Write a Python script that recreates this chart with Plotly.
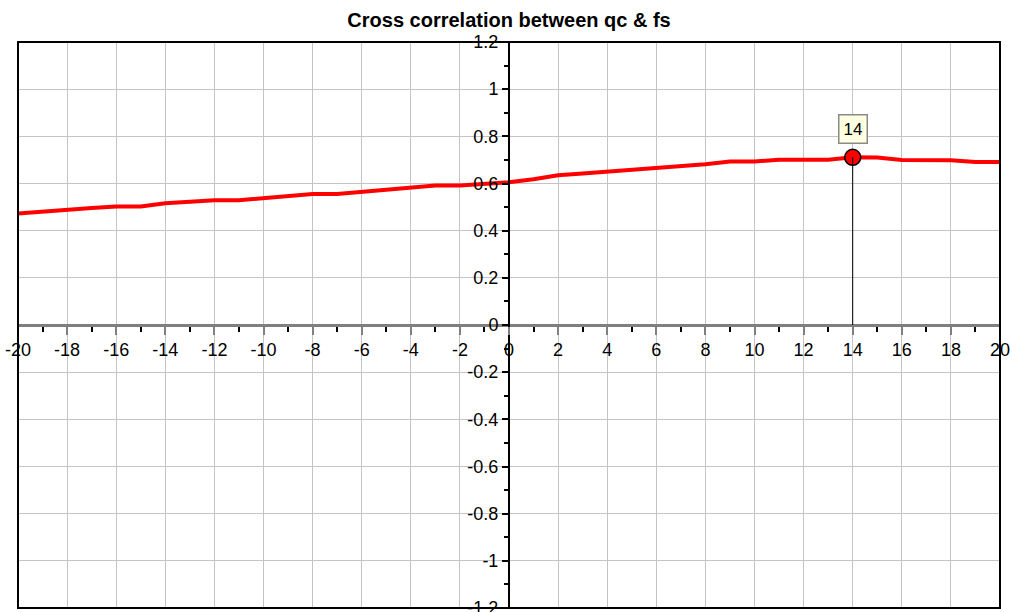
import numpy as np
import plotly.graph_objects as go

# Lags and cross-correlation coefficients between qc and fs
lags = list(range(-20, 21))
xcorr = [
    0.473, 0.482, 0.490, 0.496, 0.503, 0.503, 0.516, 0.521, 0.529, 0.529,
    0.537, 0.547, 0.555, 0.555, 0.565, 0.574, 0.582, 0.592, 0.592, 0.598,
    0.605, 0.618, 0.635, 0.642, 0.650, 0.657, 0.663, 0.672, 0.682, 0.693,
    0.693, 0.701, 0.701, 0.701, 0.711, 0.710, 0.700, 0.700, 0.699, 0.691,
    0.691,
]
x_ticks = list(range(-20, 21, 2))
y_ticks = [-1.2, -1.0, -0.8, -0.6, -0.4, -0.2, 0.0, 0.2, 0.4, 0.6, 0.8, 1.0, 1.2]
y_tick_text = ["-1.2", "-1", "-0.8", "-0.6", "-0.4", "-0.2", "0", "0.2", "0.4", "0.6", "0.8", "1", "1.2"]

peak_i = int(np.argmax(xcorr))
peak_lag = lags[peak_i]
peak_val = xcorr[peak_i]

FONT = "Liberation Sans, Arial, sans-serif"

fig = go.Figure()
fig.add_trace(go.Scatter(
    x=lags, y=xcorr, mode="lines",
    line=dict(color="#ff0000", width=4),
    hoverinfo="skip", showlegend=False,
))

# stem from the peak down to the zero line
fig.add_shape(type="line", x0=peak_lag, x1=peak_lag, y0=0, y1=peak_val,
              xref="x", yref="y", line=dict(color="black", width=1))

fig.add_trace(go.Scatter(
    x=[peak_lag], y=[peak_val], mode="markers",
    marker=dict(color="#ff0000", size=16, line=dict(color="black", width=1.5)),
    hoverinfo="skip", showlegend=False,
))

fig.add_annotation(
    x=peak_lag, y=peak_val, text=str(peak_lag), showarrow=False, yshift=28,
    bgcolor="#ffffe1", bordercolor="#8a8a8a", borderwidth=1.5, borderpad=4,
    font=dict(family=FONT, size=17, color="black"),
)

# plot frame
fig.add_shape(type="rect", xref="paper", yref="paper", x0=0, x1=1, y0=0, y1=1,
              line=dict(color="black", width=2), layer="above")

fig.update_layout(
    width=1012, height=612,
    margin=dict(l=18, r=12, t=42, b=4),
    paper_bgcolor="white", plot_bgcolor="white",
    title=dict(text="<b>Cross correlation between qc &amp; fs</b>", x=0.503, xanchor="center",
               y=0.968, yanchor="middle",
               font=dict(family=FONT, size=20, color="black")),
    font=dict(family=FONT, size=18, color="black"),
    xaxis=dict(
        range=[-20, 20], tickvals=x_ticks, ticktext=[str(v) for v in x_ticks],
        showgrid=True, gridcolor="#c4c4c4", gridwidth=1, zeroline=False,
        showline=True, linecolor="#7f7f7f", linewidth=2.5,
        anchor="free", position=0.5, automargin=False,
        ticks="outside", ticklen=8, tickcolor="#7f7f7f", tickwidth=1.5,
        minor=dict(dtick=1, ticks="outside", ticklen=5, tickcolor="black", showgrid=False),
        tickfont=dict(family=FONT, size=18, color="black"),
        ticklabeloverflow="allow",
        fixedrange=True,
    ),
    yaxis=dict(
        range=[-1.2, 1.2], tickvals=y_ticks, ticktext=y_tick_text,
        showgrid=True, gridcolor="#c4c4c4", gridwidth=1, zeroline=False,
        showline=True, linecolor="black", linewidth=2,
        anchor="free", position=0.5, automargin=False,
        ticks="outside", ticklen=6, tickcolor="black", tickwidth=1.5,
        minor=dict(dtick=0.1, ticks="outside", ticklen=4, tickcolor="black", showgrid=False),
        tickfont=dict(family=FONT, size=18, color="black"),
        ticklabeloverflow="allow",
        fixedrange=True,
    ),
)

fig.write_html("out.html")
